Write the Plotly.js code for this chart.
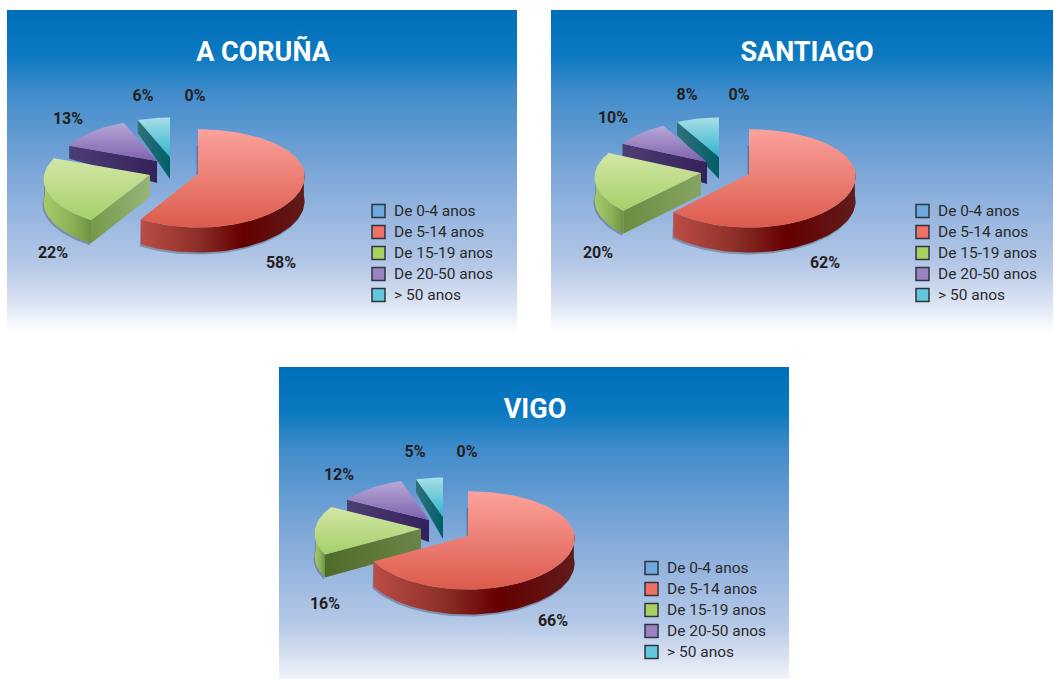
<!DOCTYPE html>
<html><head><meta charset="utf-8">
<script src="https://cdn.plot.ly/plotly-3.0.1.min.js"></script>
<style>html,body{margin:0;padding:0;background:#fff;overflow:hidden}#c{width:1054px;height:679px}</style>
</head><body><div id="c"></div>
<script>
// ---- data
const categories = ['De 0-4 anos','De 5-14 anos','De 15-19 anos','De 20-50 anos','> 50 anos'];
const panelTitles = ['A CORUÑA','SANTIAGO','VIGO'];
const valuesCoruna = [0,58,22,13,6];
const valuesSantiago = [0,62,20,10,8];
const valuesVigo = [0,66,16,12,5];

// ---- layout / style options (page pixels are the axis units)
const legendColors = ['#6fa8dc','#f07163','#a9d162','#9b82c0','#62c8dc'];
const topGrad = [null,['#fba29c','#dc5b4c'],['#d3e6a6','#a5d069'],['#b8a8d8','#7e62ac'],['#a8dfe8','#30b4cc']];
const panels = [
 {box:[7,517,10,332], title:[263,52], values:valuesCoruna, legend:[378.5,211],
  apex:[null,[198,174],[150,175],[157,161],[170,157]],
  labels:[[195,95],[281,262],[53,252],[68,118],[143,95]], greenFace:['#76994a','#98b478']},
 {box:[551,1053,10,332], title:[807,52], values:valuesSantiago, legend:[922.5,211],
  apex:[null,[749,174],[701,173],[707,162],[719,157]],
  labels:[[739,94],[825,262],[598,252],[613,117],[687,94]], greenFace:['#6b8c40','#86a462']},
 {box:[279,789,367,689], title:[535,409], values:valuesVigo, legend:[651.5,568],
  apex:[null,[468,536],[421,529],[429,520],[443,517]],
  labels:[[467,451],[553,620],[325,603],[339,474],[415,451]], greenFace:['#4f6b2a','#6b8548']}
];
const radius = [0,106.5,106,97,94];
const wallOuter = [0,25,23,13,13];
const wallApex = 22;
const perspX = [0,0.05,0.09,0.09,0.09], perspY = 0.09, squash = 0.458;
const bgStops = [[0,'#006fba'],[0.14,'#0a79c0'],[0.25,'#3f8bca'],[0.5,'#7ca6d8'],[0.8,'#b6c9e7'],[0.9,'#d8e1f2'],[0.95,'#eaeff8'],[1,'#ffffff']];
const rimScales = [null,
  [[0,'#bb4d44'],[0.35,'#8c2f28'],[0.62,'#640000'],[1,'#601c1a']],
  [[0,'#a6cc68'],[0.6,'#8cb058'],[1,'#6f9240']], null, null];
const faceColors = [null,null,null,['#4c3e72','#35215a'],['#33707a','#005e68']];
const fontName = 'Roboto, "Liberation Sans", Arial, sans-serif';

const traces = [];
function poly(xs,ys,opt){
  traces.push(Object.assign({type:'scatter',mode:'lines',x:xs,y:ys,fill:'toself',line:{width:0},
    hoverinfo:'skip',showlegend:false},opt));
}
function grad(kind,scale){
  // the y axis runs downward, so a vertical scale is listed from the bottom up
  const s = kind==='vertical' ? scale.map(q=>[1-q[0],q[1]]).reverse() : scale;
  return {fillcolor:'rgba(0,0,0,0)',fillgradient:{type:kind,colorscale:s}};
}
function two(a,b){return [[0,a],[1,b]];}
function pt(deg,r,ap,k){
  const t=deg*Math.PI/180, c=Math.cos(t);
  return [ap[0]+r*Math.sin(t)/(1+k*c), ap[1]-r*squash*c/(1+perspY*c)];
}
function arcPts(a,b,r,ap,k){const o=[];const n=Math.max(2,Math.ceil((b-a)/2));
  for(let i=0;i<=n;i++) o.push(pt(a+(b-a)*i/n,r,ap,k)); return o;}
const xs=l=>l.map(p=>p[0]), ys=l=>l.map(p=>p[1]);

panels.forEach((p,pi)=>{
  const [x0,x1,y0,y1]=p.box;
  poly([x0,x1,x1,x0,x0],[y0,y0,y1,y1,y0],grad('vertical',bgStops));
  const total=p.values.reduce((a,b)=>a+b,0); const starts=[];let acc=0;
  p.values.forEach(v=>{starts.push(acc);acc+=v*360/total;});
  for(let i=4;i>=1;i--){
    if(p.values[i]===0) continue;
    const ap=p.apex[i],r=radius[i],w=wallOuter[i],k=perspX[i];
    const a=starts[i], b=i===4?360:starts[i+1];
    const outer=arcPts(a,b,r,ap,k);
    const ra=Math.max(a,86), rb=Math.min(b,274);
    if(rb>ra){
      const top=arcPts(ra,rb,r,ap,k);
      const bot=top.map(q=>[q[0],q[1]+w]).reverse();
      const all=top.concat(bot);
      const shadow=bot.map(q=>[q[0]-1,q[1]+2]);
      poly(xs(shadow.concat(top)),ys(shadow.concat(top)),{fillcolor:'rgba(50,55,85,0.35)'});
      poly(xs(all),ys(all),grad('horizontal',rimScales[i]));
    }
    const e=pt(a,r,ap,k);
    if(i>=2){
      const fx=[e[0],ap[0],ap[0],e[0]], fy=[e[1],ap[1],ap[1]+wallApex,e[1]+w];
      const c=i===2?p.greenFace:faceColors[i];
      poly(fx,fy,grad('horizontal',two(c[0],c[1])));
    } else {
      // hairline shadow along the start edge of the main slice
      poly([ap[0]-1.5,ap[0],ap[0],ap[0]-1.5],[ap[1]-28,ap[1]-28,ap[1]+1,ap[1]+1],{fillcolor:'rgba(60,60,90,0.4)'});
    }
    const faceL=[ap].concat(outer);
    poly(xs(faceL),ys(faceL),grad('vertical',two(topGrad[i][0],topGrad[i][1])));
  }
  traces.push({type:'scatter',mode:'text',x:p.labels.map(l=>l[0]),y:p.labels.map(l=>l[1]+1.5),
    text:p.values.map(v=>v+'%'),textposition:'middle center',hoverinfo:'skip',showlegend:false,
    textfont:{family:fontName,size:16,color:'#231f20',weight:700}});
  traces.push({type:'scatter',mode:'text',x:[p.title[0]],y:[p.title[1]+2],text:[panelTitles[pi]],
    textposition:'middle center',hoverinfo:'skip',showlegend:false,
    textfont:{family:fontName,size:27,color:'#ffffff',weight:700}});
  // legend keys and their labels
  const rowY=categories.map((c,i)=>p.legend[1]+i*21);
  traces.push({type:'scatter',mode:'markers',x:categories.map(()=>p.legend[0]),y:rowY,
    hoverinfo:'skip',showlegend:false,
    marker:{symbol:'square',size:13,color:legendColors,line:{color:'#2e3440',width:1.5}}});
  traces.push({type:'scatter',mode:'text',x:categories.map(()=>p.legend[0]+15.5),y:rowY.map(v=>v+1),
    text:categories,textposition:'middle right',hoverinfo:'skip',showlegend:false,
    textfont:{family:fontName,size:15.5,color:'#2b2b2b'}});
});

Plotly.newPlot('c',traces,{
  width:1054,height:679,margin:{l:0,r:0,t:0,b:0,pad:0},
  paper_bgcolor:'#ffffff',plot_bgcolor:'#ffffff',showlegend:false,
  xaxis:{range:[0,1054],visible:false,fixedrange:true},
  yaxis:{range:[679,0],visible:false,fixedrange:true}
},{displayModeBar:false,staticPlot:true});
</script></body></html>
